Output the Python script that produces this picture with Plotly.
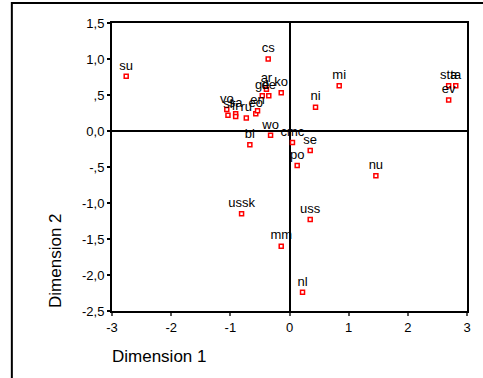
import plotly.graph_objects as go

labels = ["su", "cs", "mi", "ni", "sta", "ta", "ev", "ko", "ar", "ge", "de",
          "vo", "sl", "sa", "fr", "ru", "eo", "en", "wo", "bl", "cmc", "se",
          "po", "nu", "ussk", "uss", "mm", "nl"]
dim1 = [-2.76, -0.36, 0.84, 0.44, 2.69, 2.81, 2.69, -0.14, -0.39, -0.46, -0.35,
        -1.06, -1.04, -0.91, -0.91, -0.73, -0.57, -0.54, -0.32, -0.67, 0.05, 0.35,
        0.13, 1.46, -0.81, 0.35, -0.14, 0.22]
dim2 = [0.76, 1.00, 0.63, 0.33, 0.63, 0.63, 0.43, 0.53, 0.58, 0.49, 0.49,
        0.30, 0.22, 0.24, 0.20, 0.18, 0.24, 0.28, -0.06, -0.19, -0.16, -0.27,
        -0.48, -0.62, -1.15, -1.23, -1.60, -2.24]

ytick_vals = [1.5, 1.0, 0.5, 0.0, -0.5, -1.0, -1.5, -2.0, -2.5]
ytick_text = ["1,5", "1,0", ",5", "0,0", "-,5", "-1,0", "-1,5", "-2,0", "-2,5"]
xtick_vals = [-3, -2, -1, 0, 1, 2, 3]

FONT = "Liberation Sans, Arial, sans-serif"

fig = go.Figure()
fig.add_trace(go.Scatter(
    x=dim1, y=dim2, mode="markers+text", text=labels,
    textposition="top center",
    textfont=dict(family=FONT, size=13, color="black"),
    marker=dict(symbol="square", size=4, color="white",
                line=dict(color="#ff0000", width=1.5)),
    cliponaxis=False, showlegend=False,
))

W, H = 483, 378
L, R, T, B = 112, 13, 23, 67
pw, ph = W - L - R, H - T - B

def px(xp):
    return (xp - L) / pw

def py(yp):
    return (H - B - yp) / ph

fig.update_layout(
    width=W, height=H,
    margin=dict(l=L, r=R, t=T, b=B),
    paper_bgcolor="white", plot_bgcolor="white",
    font=dict(family=FONT, color="black"),
    xaxis=dict(range=[-3, 3], tickvals=xtick_vals,
               ticktext=[str(v) for v in xtick_vals],
               showgrid=False, zeroline=True, zerolinecolor="black", zerolinewidth=1.5,
               showline=True, linecolor="black", linewidth=2, mirror=True,
               ticks="outside", ticklen=3, tickwidth=2, tickcolor="#555555",
               tickfont=dict(family=FONT, size=13, color="black")),
    yaxis=dict(range=[-2.5, 1.5], tickvals=ytick_vals, ticktext=ytick_text,
               showgrid=False, zeroline=True, zerolinecolor="black", zerolinewidth=1.5,
               showline=True, linecolor="black", linewidth=2, mirror=True,
               ticks="outside", ticklen=3, tickwidth=2, tickcolor="black",
               tickfont=dict(family=FONT, size=13, color="black")),
    shapes=[dict(type="rect", xref="paper", yref="paper",
                 x0=px(11), x1=px(495), y0=py(395), y1=py(3),
                 line=dict(color="black", width=2), fillcolor="rgba(0,0,0,0)",
                 layer="below")],
    annotations=[
        dict(text="Dimension 1", xref="paper", yref="paper",
             x=px(110), y=py(356), xanchor="left", yanchor="middle",
             showarrow=False, font=dict(family=FONT, size=17, color="black")),
        dict(text="Dimension 2", xref="paper", yref="paper",
             x=px(55), y=py(310), xanchor="center", yanchor="bottom",
             textangle=-90, showarrow=False,
             font=dict(family=FONT, size=17, color="black")),
    ],
)

fig.write_html("out.html")
